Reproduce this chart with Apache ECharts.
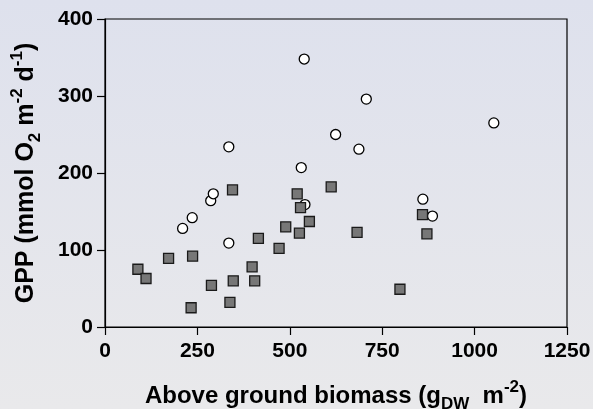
<!DOCTYPE html>
<html>
<head>
<meta charset="utf-8">
<script src="https://cdn.jsdelivr.net/npm/echarts@6/dist/echarts.min.js"></script>
<style>
  html, body { margin: 0; padding: 0; }
  #chart { width: 593px; height: 409px; }
</style>
</head>
<body>
<div id="chart"></div>
<script>
// open circles: [biomass, GPP]
var openPoints = [
  [210, 128], [236, 142], [286, 164], [293, 173], [335, 234], [335, 109],
  [531, 207], [539, 348], [541, 159], [624, 250], [687, 231], [707, 296],
  [860, 166], [886, 144], [1052, 265]
];
// grey squares: [biomass, GPP]
var squarePoints = [
  [89, 75], [111, 63], [172, 89], [233, 25], [237, 92], [288, 54],
  [338, 32], [345, 178], [347, 60], [398, 78], [405, 60], [415, 115],
  [471, 102], [489, 130], [520, 173], [526, 122], [529, 155], [553, 137],
  [612, 182], [682, 123], [798, 49], [859, 146], [871, 121]
];
var xTicks = [0, 250, 500, 750, 1000, 1250];
var yTicks = [0, 100, 200, 300, 400];

var font = 'Liberation Sans';
// rich styles for axis titles with sub/superscripts
function titleRich(size, small) {
  return {
    a: { fontFamily: font, fontWeight: 'bold', fontSize: size, color: '#000', lineHeight: size + 10 },
    sub: { fontFamily: font, fontWeight: 'bold', fontSize: small, color: '#000', lineHeight: small + 1, verticalAlign: 'bottom' },
    sup: { fontFamily: font, fontWeight: 'bold', fontSize: small, color: '#000', lineHeight: small, verticalAlign: 'top' }
  };
}

var myChart = echarts.init(document.getElementById('chart'));
myChart.setOption({
  backgroundColor: new echarts.graphic.LinearGradient(0, 0, 0, 1, [
    { offset: 0, color: '#dee1ed' },
    { offset: 1, color: '#e9e9eb' }
  ]),
  animation: false,
  grid: {
    left: 105, right: 26, top: 19, bottom: 82,
    outerBoundsMode: 'none',
    show: true, borderColor: '#000', borderWidth: 1.2
  },
  xAxis: {
    type: 'value',
    min: xTicks[0], max: xTicks[xTicks.length - 1], interval: 250,
    splitLine: { show: false },
    axisLine: { lineStyle: { color: '#000', width: 1.2 } },
    axisTick: { length: 8, lineStyle: { color: '#000', width: 1.2 } },
    axisLabel: {
      color: '#000', fontFamily: font, fontWeight: 'bold', fontSize: 21, margin: 14,
      showMaxLabel: true,
      formatter: function (v) { return String(v); }
    },
    name: '{a|Above ground biomass (g}{sub|DW}{a|  m}{sup|-2}{a|)}',
    nameLocation: 'middle',
    nameGap: 52,
    nameTextStyle: { rich: titleRich(24, 17) }
  },
  yAxis: {
    type: 'value',
    min: yTicks[0], max: yTicks[yTicks.length - 1], interval: 100,
    splitLine: { show: false },
    axisLine: { lineStyle: { color: '#000', width: 1.2 } },
    axisTick: { length: 8, lineStyle: { color: '#000', width: 1.2 } },
    axisLabel: { color: '#000', fontFamily: font, fontWeight: 'bold', fontSize: 21, margin: 12 },
    name: '{a|GPP (mmol O}{sub|2}{a| m}{sup|-2}{a| d}{sup|-1}{a|)}',
    nameLocation: 'middle',
    nameRotate: 90,
    nameGap: 61,
    nameTextStyle: { rich: titleRich(25, 17) }
  },
  series: [
    {
      name: 'open',
      type: 'scatter',
      symbol: 'circle',
      symbolSize: 10,
      itemStyle: { color: '#fff', borderColor: '#000', borderWidth: 1.3, opacity: 1 },
      data: openPoints
    },
    {
      name: 'square',
      type: 'scatter',
      symbol: 'rect',
      symbolSize: 10,
      itemStyle: { color: '#777', borderColor: '#1a1a1a', borderWidth: 1.3, opacity: 1 },
      data: squarePoints
    }
  ]
});
</script>
</body>
</html>
